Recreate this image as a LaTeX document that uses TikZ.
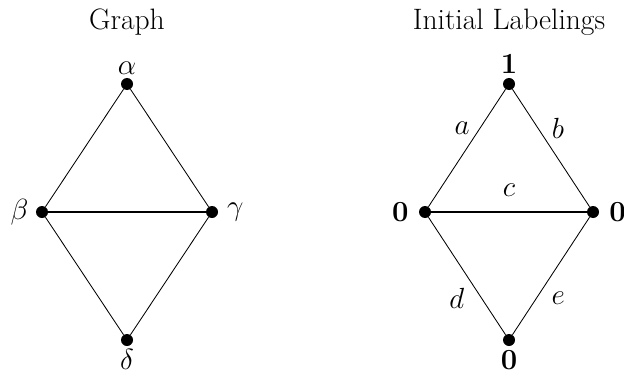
\documentclass[tikz,border=0pt]{standalone}
\usepackage{amsmath,amssymb}
\usepackage{tikz}
\usetikzlibrary{positioning}
\tikzset{
  vertex/.style={circle, fill=black, inner sep=0pt, minimum size=0.3cm},
  edge/.style={line width=0.6pt},
  heavyedge/.style={line width=2pt},
  vlabel/.style={font=\fontsize{22}{24}\selectfont, inner sep=1pt},
  elabel/.style={font=\fontsize{22}{24}\selectfont, inner sep=1pt},
  title/.style={font=\fontsize{21}{24}\selectfont},
}

\begin{document}
\begin{tikzpicture}[x=0.025cm, y=-0.025cm]
\useasboundingbox (0,0) rectangle (624,374);
% left: the graph
\node[title] (t1) at (127,22) {Graph};
\node[vertex] (al) at (127,84) {};
\node[vertex] (be) at (42,212) {};
\node[vertex] (ga) at (212,212) {};
\node[vertex] (de) at (127,340) {};
\node[vlabel, above=1pt of al] {$\alpha$};
\node[vlabel, left=4pt of be] {$\beta$};
\node[vlabel, right=5pt of ga] {$\gamma$};
\node[vlabel, below=1pt of de] {$\delta$};
\foreach \a/\b in {al/be, al/ga, be/de, ga/de}
  \draw[edge] (\a) -- (\b);
\draw[heavyedge] (be) -- (ga);
% right: initial labelings
\node[title] (t2) at (509,22) {Initial Labelings};
\node[vertex] (n1) at (509,84) {};
\node[vertex] (n2) at (425,212) {};
\node[vertex] (n3) at (593,212) {};
\node[vertex] (n4) at (509,340) {};
\node[vlabel, above=2pt of n1] {$\mathbf{1}$};
\node[vlabel, left=6pt of n2] {$\mathbf{0}$};
\node[vlabel, right=6pt of n3] {$\mathbf{0}$};
\node[vlabel, below=2pt of n4] {$\mathbf{0}$};
\draw[edge] (n1) -- node[elabel, pos=0.33, xshift=-0.45cm] {$a$} (n2);
\draw[edge] (n1) -- node[elabel, pos=0.33, xshift=0.5cm] {$b$} (n3);
\draw[heavyedge] (n2) -- node[elabel, yshift=0.55cm] {$c$} (n3);
\draw[edge] (n2) -- node[elabel, pos=0.69, xshift=-0.62cm] {$d$} (n4);
\draw[edge] (n3) -- node[elabel, pos=0.69, xshift=0.55cm] {$e$} (n4);
\end{tikzpicture}
\end{document}
